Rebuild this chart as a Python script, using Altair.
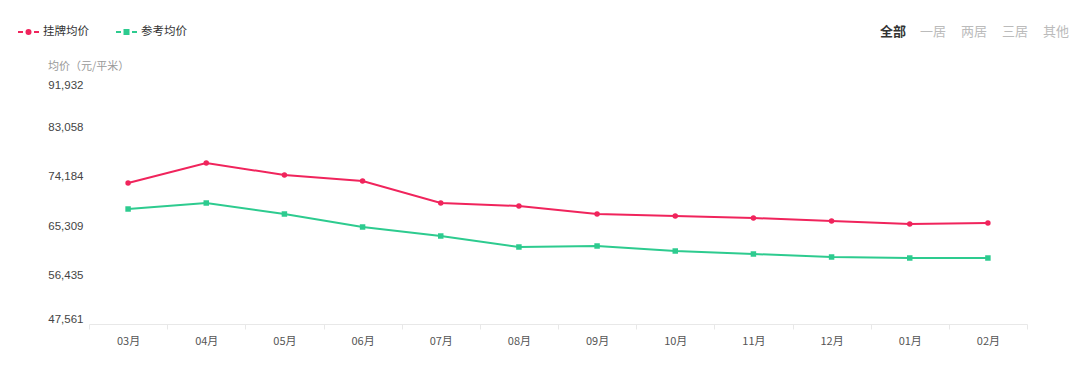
import altair as alt
import pandas as pd

months = ["03月", "04月", "05月", "06月", "07月", "08月", "09月", "10月", "11月", "12月", "01月", "02月"]
listing_price = [73096, 76718, 74545, 73458, 69474, 68931, 67482, 67120, 66758, 66214, 65671, 65852]
reference_price = [68388, 69474, 67482, 65128, 63498, 61506, 61687, 60781, 60238, 59695, 59514, 59514]
series_names = ["挂牌均价", "参考均价"]
series_colors = ["#F0245C", "#2DCB8F"]
y_ticks = [47561, 56435, 65309, 74184, 83058, 91932]
tabs = ["全部", "一居", "两居", "三居", "其他"]

rows = []
for i, m in enumerate(months):
    rows.append({"month": m, "series": series_names[0], "value": listing_price[i]})
    rows.append({"month": m, "series": series_names[1], "value": reference_price[i]})
df = pd.DataFrame(rows)

FONT = "Noto Sans CJK SC"
W, H = 938, 245
VIEW_LEFT = 89
TOP_Y = -47

x_enc = alt.X("month:N", sort=months,
              scale=alt.Scale(type="band", paddingInner=0, paddingOuter=0),
              axis=alt.Axis(title=None, labelAngle=0, tickBand="extent", domainColor="#e8e8e8",
                            tickColor="#e8e8e8", tickSize=5, labelColor="#555555", labelFontSize=11,
                            labelFont=FONT, labelPadding=6, grid=False))
y_enc = alt.Y("value:Q", scale=alt.Scale(domain=[y_ticks[0], y_ticks[-1]], nice=False, zero=False),
              axis=alt.Axis(title=None, values=y_ticks, format=",d", domain=False, ticks=False,
                            grid=False, labelFlush=True, labelColor="#444444", labelFontSize=11.5,
                            labelFont="Liberation Sans", labelPadding=6))
color_enc = alt.Color("series:N", scale=alt.Scale(domain=series_names, range=series_colors), legend=None)

base = alt.Chart(df)
lines = base.mark_line(strokeWidth=2).encode(x=x_enc, y=y_enc, color=color_enc)
points = base.mark_point(filled=True, opacity=1, size=30).encode(
    x=x_enc, y=y_enc, color=color_enc,
    shape=alt.Shape("series:N", scale=alt.Scale(domain=series_names, range=["circle", "square"]), legend=None))

# custom legend (top-left), page x positions converted to view coordinates
leg_df = pd.DataFrame({"series": series_names, "lx": [18 - VIEW_LEFT, 116 - VIEW_LEFT],
                       "color": series_colors, "shape": ["circle", "square"]})
leg_line = alt.Chart(leg_df).mark_rule(strokeWidth=2, strokeDash=[5, 3]).encode(
    x=alt.X("lx:Q", scale=None), x2=alt.X2("lx2:Q"), y=alt.value(TOP_Y),
    color=alt.Color("color:N", scale=None)).transform_calculate(lx2="datum.lx + 21")
leg_pt = alt.Chart(leg_df).mark_point(filled=True, opacity=1, size=36).encode(
    x=alt.X("px:Q", scale=None), y=alt.value(TOP_Y),
    color=alt.Color("color:N", scale=None),
    shape=alt.Shape("shape:N", scale=None)).transform_calculate(px="datum.lx + 10.5")
leg_txt = alt.Chart(leg_df).mark_text(align="left", baseline="middle", fontSize=11.5, font=FONT,
                                       color="#333333").encode(
    x=alt.X("tx:Q", scale=None), y=alt.value(TOP_Y), text="series:N").transform_calculate(tx="datum.lx + 25")

# tabs (top-right)
tab_df = pd.DataFrame({"tab": tabs, "tx": [v - VIEW_LEFT for v in [880, 920, 961, 1002, 1043]],
                       "c": ["#333333", "#bbbbbb", "#bbbbbb", "#bbbbbb", "#bbbbbb"],
                       "w": ["bold", "normal", "normal", "normal", "normal"]})
tab_bold = alt.Chart(tab_df).transform_filter("datum.w == 'bold'").mark_text(
    align="left", baseline="middle", fontSize=13, font=FONT, fontWeight="bold").encode(
    x=alt.X("tx:Q", scale=None), y=alt.value(TOP_Y), text="tab:N", color=alt.Color("c:N", scale=None))
tab_norm = alt.Chart(tab_df).transform_filter("datum.w != 'bold'").mark_text(
    align="left", baseline="middle", fontSize=13, font=FONT).encode(
    x=alt.X("tx:Q", scale=None), y=alt.value(TOP_Y), text="tab:N", color=alt.Color("c:N", scale=None))

ytitle = alt.Chart(pd.DataFrame({"t": ["均价（元/平米）"]})).mark_text(
    align="left", baseline="middle", fontSize=11, font=FONT, color="#999999").encode(
    x=alt.value(-41), y=alt.value(-12), text="t:N")

final = alt.layer(lines, points, leg_line, leg_pt, leg_txt, tab_bold, tab_norm, ytitle).resolve_scale(
    color="independent", shape="independent").properties(
    width=W, height=H,
    autosize=alt.AutoSizeParams(type="none"),
    padding={"left": 81, "top": 71, "right": 45, "bottom": 40},
).configure_view(stroke=None)

final.save("out.html", embed_options={"renderer": "svg", "actions": False})
